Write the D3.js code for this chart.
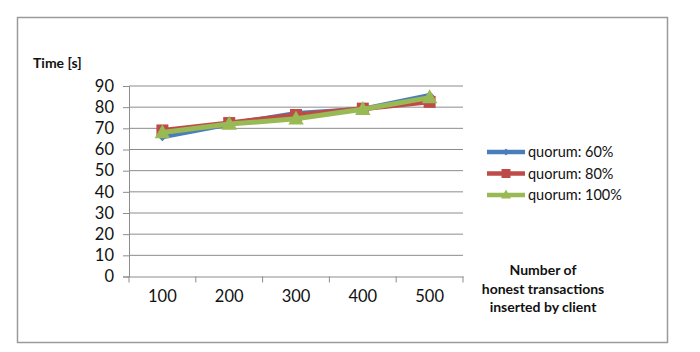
<!DOCTYPE html>
<html><head><meta charset="utf-8">
<script src="https://cdn.jsdelivr.net/npm/d3@7"></script>
<style>body{margin:0;background:#fff;}svg{display:block;}</style>
</head><body>
<svg id="c" width="700" height="352"></svg>
<script>
const categories = ["100","200","300","400","500"];
const q60 = [66, 72, 77, 79, 85.5];
const q80 = [69, 72.5, 76.3, 79.3, 82.5];
const q100 = [68, 72, 74.5, 79, 84.5];
const seriesNames = ["quorum: 60%","quorum: 80%","quorum: 100%"];
const yTicks = [0,10,20,30,40,50,60,70,80,90];

const series = [
  {name: seriesNames[0], values: q60, color: "#4A7EBB", marker: "diamond"},
  {name: seriesNames[1], values: q80, color: "#BE4B48", marker: "square"},
  {name: seriesNames[2], values: q100, color: "#98B954", marker: "triangle"}
];

const svg = d3.select("#c");
const font = "Lato, 'Open Sans', sans-serif";

svg.append("rect").attr("x",17.5).attr("y",17.5).attr("width",650).attr("height",325)
  .attr("fill","#fff").attr("stroke","#9a9a9a").attr("stroke-width",1.5);

const x0 = 129, x1 = 463, yTop = 86, yBot = 276.5;
const x = d3.scaleBand().domain(categories).range([x0, x1]);
const y = d3.scaleLinear().domain([0, 90]).range([yBot, yTop]);

// gridlines
svg.append("g").selectAll("line").data(yTicks.filter(d=>d>0)).join("line")
  .attr("x1", x0).attr("x2", x1).attr("y1", d=>y(d)).attr("y2", d=>y(d))
  .attr("stroke","#8c8c8c").attr("stroke-width",1);

// y axis
const yAxis = svg.append("g").attr("transform",`translate(${x0},0)`)
  .call(d3.axisLeft(y).tickValues(yTicks).tickSize(6).tickPadding(9));
yAxis.select(".domain").attr("stroke","#8c8c8c");
yAxis.selectAll(".tick line").attr("stroke","#8c8c8c");
yAxis.selectAll("text").attr("font-family",font).attr("font-size",16.5).attr("fill","#111");

// x axis
const xAxis = svg.append("g").attr("transform",`translate(0,${yBot})`)
  .call(d3.axisBottom(x).tickSize(0).tickPadding(14));
xAxis.select(".domain").attr("stroke","#8c8c8c");
xAxis.selectAll("text").attr("font-family",font).attr("font-size",16.5).attr("fill","#111");
// category boundary ticks
const bounds = categories.map(c=>x(c)).concat([x1]);
svg.append("g").selectAll("line").data(bounds).join("line")
  .attr("x1",d=>d).attr("x2",d=>d).attr("y1",yBot).attr("y2",yBot+6)
  .attr("stroke","#8c8c8c");

const cx = c => x(c) + x.bandwidth()/2;
const line = d3.line().x((d,i)=>cx(categories[i])).y(d=>y(d));

function marker(g, type, color, px, py, s) {
  if (type==="diamond") {
    g.append("path").attr("d",`M${px},${py-s}L${px+s},${py}L${px},${py+s}L${px-s},${py}Z`).attr("fill",color);
  } else if (type==="square") {
    g.append("rect").attr("x",px-s).attr("y",py-s).attr("width",2*s).attr("height",2*s).attr("fill",color);
  } else {
    g.append("path").attr("d",`M${px},${py-s*1.2}L${px+s*1.1},${py+s*0.8}L${px-s*1.1},${py+s*0.8}Z`).attr("fill",color);
  }
}
const msize = {diamond:4.5, square:6, triangle:7};

series.forEach(s=>{
  const g = svg.append("g");
  g.append("path").datum(s.values).attr("d",line).attr("fill","none")
    .attr("stroke",s.color).attr("stroke-width",5).attr("stroke-linejoin","round");
  s.values.forEach((v,i)=>marker(g, s.marker, s.color, cx(categories[i]), y(v), msize[s.marker]));
});

// legend
const leg = svg.append("g");
series.forEach((s,i)=>{
  const ly = 152 + i*21.5;
  leg.append("line").attr("x1",487).attr("x2",525).attr("y1",ly).attr("y2",ly)
    .attr("stroke",s.color).attr("stroke-width",4.5);
  marker(leg, s.marker, s.color, 506, ly, s.marker==="square"?4.5:(s.marker==="triangle"?4.5:3.5));
  leg.append("text").attr("x",528).attr("y",ly+5).text(s.name)
    .attr("font-family",font).attr("font-size",14.5).attr("fill","#111");
});

// titles
svg.append("text").attr("x",33).attr("y",68).text("Time [s]")
  .attr("font-family",font).attr("font-size",14).attr("font-weight","bold").attr("fill","#111");
const xt = ["Number of","honest transactions","inserted by client"];
svg.append("g").selectAll("text").data(xt).join("text")
  .attr("x",543).attr("y",(d,i)=>275+i*18.5).attr("text-anchor","middle").text(d=>d)
  .attr("font-family",font).attr("font-size",14).attr("font-weight","bold").attr("fill","#111");
</script>
</body></html>
